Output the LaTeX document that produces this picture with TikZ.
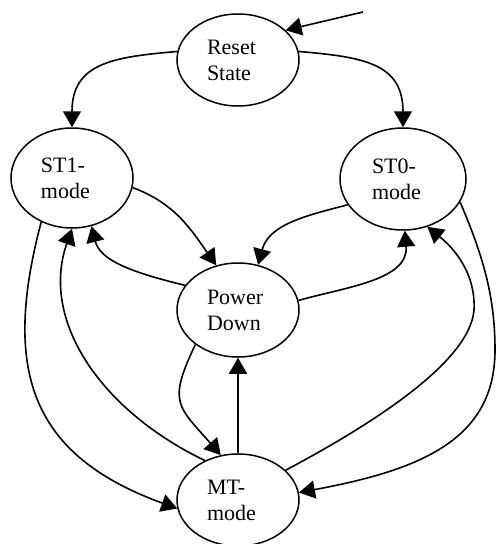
\documentclass[tikz,border=0pt]{standalone}
\usepackage{fontspec}
\setmainfont{Liberation Serif}
\usetikzlibrary{shapes.geometric,arrows.meta}
\begin{document}
\begin{tikzpicture}[x=1pt,y=-1pt,
  state/.style={ellipse,draw,line width=1.5pt,inner sep=0pt,text width=62pt,align=left,
    font=\fontsize{22}{26}\selectfont},
  conn/.style={line width=1.6pt,line join=round,-{Triangle[length=16pt,width=18pt]}}]
\useasboundingbox (0,0) rectangle (498,544);
\node[state,minimum width=122pt,minimum height=92pt] (R) at (238,60) {Reset\\State};
\node[state,minimum width=122pt,minimum height=100pt] (S1) at (72,178) {ST1-\\mode};
\node[state,minimum width=126pt,minimum height=102pt] (S0) at (403,179) {ST0-\\mode};
\node[state,minimum width=122pt,minimum height=94pt] (PD) at (238,310) {Power\\Down};
\node[state,minimum width=122pt,minimum height=92pt] (MT) at (238,500) {MT-\\mode};
\coordinate (inR) at (363,12);
% incoming
\draw[conn] (inR) -- (R.32);
% reset -> ST1 / ST0
\draw[conn] (R.172) .. controls (113,57) and (72,63) .. (S1.north);
\draw[conn] (R.8) .. controls (363,57) and (403,63) .. (S0.north);
% ST1 / ST0 -> Power Down
\draw[conn] (S1.-9) .. controls (174.5,203) and (190.7,229) .. (PD.116);
\draw[conn] (S0.205) .. controls (307,215.5) and (269,224) .. (PD.66);
% Power Down -> ST1 / ST0
\draw[conn] (PD.155) .. controls (130,272) and (100,260) .. (S1.-68);
\draw[conn] (PD.9) .. controls (346,287) and (409,280) .. (S0.-88);
% MT -> ST1 (inner), ST1 -> MT (outer)
\draw[conn] (MT.130) .. controls (100,410) and (40,320) .. (S1.south);
\draw[conn] (S1.235) .. controls (2,370) and (30,455) .. (MT.188);
% Power Down <-> MT
\draw[conn] (PD.219) .. controls (167.5,403) and (177.6,405.6) .. (MT.111);
\draw[conn] (MT.north) -- (PD.south);
% MT -> ST0 (inner), ST0 -> MT (outer)
\draw[conn] (MT.32) .. controls (380,420) and (470,360) .. (474,310)
  .. controls (476,270) and (450,245) .. (S0.-63);
\draw[conn] (S0.-22) .. controls (485,260) and (495,300) .. (495,350)
  .. controls (495,440) and (420,470) .. (MT.7);
\end{tikzpicture}
\end{document}
